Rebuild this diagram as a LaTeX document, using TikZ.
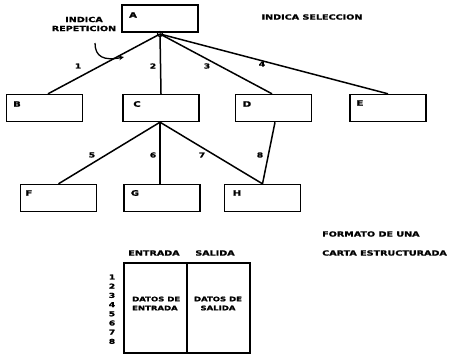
\documentclass[tikz,border=0pt]{standalone}
\usepackage{fontspec}
\setmainfont{DejaVu Sans}[UprightFont=* Bold, BoldFont=* Bold, FakeStretch=1.35, FakeBold=1.5]
\usetikzlibrary{arrows.meta}
\begin{document}
\begin{tikzpicture}[x=1pt,y=-1pt,
  box/.style={draw, line width=1.4pt, minimum width=76pt, minimum height=27pt, inner sep=0pt},
  lett/.style={font=\fontsize{7.5}{8}\selectfont, inner sep=0pt},
  txt/.style={font=\fontsize{7.1}{9}\selectfont, inner sep=0pt},
  small/.style={font=\fontsize{6.3}{9}\selectfont, inner sep=0pt},
  num/.style={font=\fontsize{6.8}{7}\selectfont, inner sep=0pt},
  conn/.style={line width=1.5pt}]
\useasboundingbox (0,0) rectangle (454,354);
% boxes
\node[box] (A) at (160,18.5) {};
\node[box] (B) at (44.5,108) {};
\node[box] (C) at (161,108) {};
\node[box] (D) at (273.5,108) {};
\node[box] (E) at (388,108) {};
\node[box] (F) at (58.5,198) {};
\node[box] (G) at (162,198) {};
\node[box] (H) at (262.5,198) {};
\node[lett] at (133,15) {A};
\node[lett] at (17,104) {B};
\node[lett] at (137,104) {C};
\node[lett] at (247,104) {D};
\node[lett] at (360,103) {E};
\node[lett] at (29,193) {F};
\node[lett] at (135,193) {G};
\node[lett] at (237,193) {H};
% apex
\coordinate (ap) at (160,34);
\draw[line width=1.1pt] (ap) circle (2.6);
\draw[conn] (ap) -- ([xshift=3.5pt]B.north);
\draw[conn] (ap) -- (C.north);
\draw[conn] (ap) -- ([xshift=-1.5pt]D.north);
\draw[conn] (ap) -- (E.north);
\draw[conn] ([xshift=-1pt]C.south) -- (F.north);
\draw[conn] ([xshift=-1pt]C.south) -- ([xshift=-2pt]G.north);
\draw[conn] ([xshift=-1pt]C.south) -- (H.north);
\draw[conn] ([xshift=1.5pt]D.south) -- (H.north);
% edge labels
\node[num] at (78,66) {1};
\node[num] at (153,66) {2};
\node[num] at (207,66) {3};
\node[num] at (262,64) {4};
\node[num] at (92,155) {5};
\node[num] at (153,155) {6};
\node[num] at (202,155) {7};
\node[num] at (260,155) {8};
% annotations
\node[txt, align=center] (rep) at (84,24) {INDICA\\REPETICION};
\node[txt] (sel) at (312,17) {INDICA SELECCION};
\coordinate (cs) at (95,43);
\coordinate (ce) at (124,57);
\draw[line width=1.3pt, -{Stealth[length=5pt,width=4.5pt]}] (cs) .. controls (95,57) and (104,61) .. (ce);
\node[txt, anchor=west] at (322,234) {FORMATO DE UNA};
\node[txt, anchor=west] at (322,253) {CARTA ESTRUCTURADA};
% table
\draw[line width=1.4pt] (124,263) rectangle (250,353);
\draw[line width=1.4pt] (187,263) -- (187,353);
\node[txt] at (154,253) {ENTRADA};
\node[txt] at (215,253) {SALIDA};
\node[small, align=left, anchor=west] at (132,303.5) {DATOS DE\\ENTRADA};
\node[small, align=center] at (218,303.5) {DATOS DE\\SALIDA};
\foreach \i in {1,...,8} {
  \node[num] at (112,{277+(\i-1)*9.2}) {\i};
}
\end{tikzpicture}
\end{document}
